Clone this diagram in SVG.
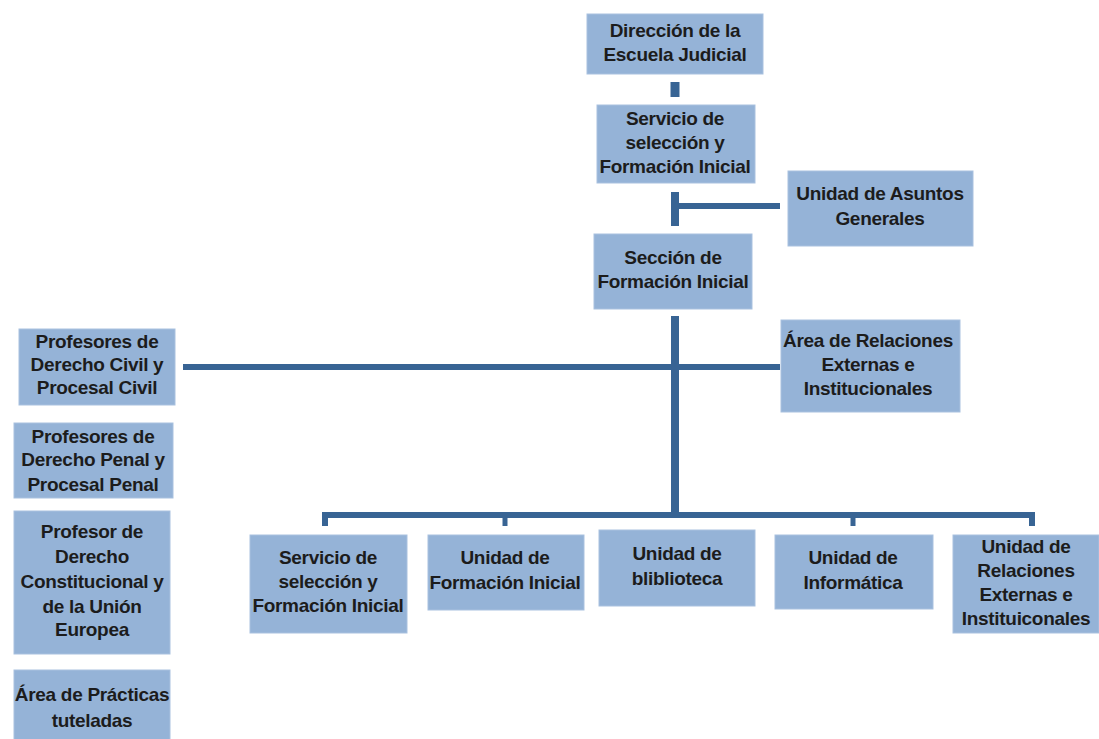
<svg xmlns="http://www.w3.org/2000/svg" width="1099" height="739" viewBox="0 0 1099 739">
<style>
.box{fill:#95b3d7;stroke:#a9c1df;stroke-width:1}
.t{font-family:"Liberation Sans",Arial,sans-serif;font-weight:bold;font-size:19px;fill:#1c1c1c;text-anchor:middle;letter-spacing:-0.3px}
.c{stroke:#386494;fill:none;stroke-linecap:butt}
</style>
<rect width="1099" height="739" fill="#ffffff"/>
<g id="connectors">
<line class="c" x1="675" y1="82" x2="675" y2="97" stroke-width="9"/>
<line class="c" x1="675" y1="192" x2="675" y2="226" stroke-width="8"/>
<line class="c" x1="675" y1="206" x2="780" y2="206" stroke-width="6"/>
<line class="c" x1="675" y1="316" x2="675" y2="518" stroke-width="8"/>
<line class="c" x1="183" y1="367" x2="780" y2="367" stroke-width="6"/>
<path class="c" d="M325 526 V515 H1032 V526" stroke-width="6"/>
<line class="c" x1="505" y1="515" x2="505" y2="526" stroke-width="5"/>
<line class="c" x1="853" y1="515" x2="853" y2="526" stroke-width="5"/>
</g>
<g id="n-direccion">
<rect class="box" x="587" y="14" width="176" height="60"/>
<text class="t" x="675" y="36.5">Dirección de la</text>
<text class="t" x="675" y="60.5">Escuela Judicial</text>
</g>
<g id="n-servicio-top">
<rect class="box" x="597" y="105" width="158" height="78"/>
<text class="t" x="675" y="124.5">Servicio de</text>
<text class="t" x="675" y="148.5">selección y</text>
<text class="t" x="675" y="172.5">Formación Inicial</text>
</g>
<g id="n-asuntos">
<rect class="box" x="788" y="171" width="185" height="75"/>
<text class="t" x="880" y="199.5">Unidad de Asuntos</text>
<text class="t" x="880" y="224.5">Generales</text>
</g>
<g id="n-seccion">
<rect class="box" x="594" y="234" width="158" height="75"/>
<text class="t" x="673" y="263.5">Sección de</text>
<text class="t" x="673" y="287.5">Formación Inicial</text>
</g>
<g id="n-civil">
<rect class="box" x="19" y="329" width="156" height="76"/>
<text class="t" x="97" y="347.5">Profesores de</text>
<text class="t" x="97" y="370.5">Derecho Civil y</text>
<text class="t" x="97" y="393.5">Procesal Civil</text>
</g>
<g id="n-penal">
<rect class="box" x="14" y="423" width="159" height="75"/>
<text class="t" x="93" y="442.5">Profesores de</text>
<text class="t" x="93" y="465.5">Derecho Penal y</text>
<text class="t" x="93" y="490.5">Procesal Penal</text>
</g>
<g id="n-constitucional">
<rect class="box" x="14" y="511" width="156" height="143"/>
<text class="t" x="92" y="537.5">Profesor de</text>
<text class="t" x="92" y="562.5">Derecho</text>
<text class="t" x="92" y="587.5">Constitucional y</text>
<text class="t" x="92" y="612.5">de la Unión</text>
<text class="t" x="92" y="635.5">Europea</text>
</g>
<g id="n-practicas">
<rect class="box" x="14" y="670" width="156" height="70"/>
<text class="t" x="92" y="700.5">Área de Prácticas</text>
<text class="t" x="92" y="726.5">tuteladas</text>
</g>
<g id="n-area-relaciones">
<rect class="box" x="781" y="320" width="179" height="92"/>
<text class="t" x="868" y="346.5">Área de Relaciones</text>
<text class="t" x="868" y="370.5">Externas e</text>
<text class="t" x="868" y="394.5">Institucionales</text>
</g>
<g id="n-servicio-bottom">
<rect class="box" x="250" y="535" width="157" height="98"/>
<text class="t" x="328" y="563.5">Servicio de</text>
<text class="t" x="328" y="587.5">selección y</text>
<text class="t" x="328" y="611.5">Formación Inicial</text>
</g>
<g id="n-formacion">
<rect class="box" x="428" y="535" width="156" height="75"/>
<text class="t" x="505" y="563.5">Unidad de</text>
<text class="t" x="505" y="588.5">Formación Inicial</text>
</g>
<g id="n-biblioteca">
<rect class="box" x="599" y="530" width="156" height="76"/>
<text class="t" x="677" y="559.5">Unidad de</text>
<text class="t" x="677" y="584.5">bliblioteca</text>
</g>
<g id="n-informatica">
<rect class="box" x="775" y="535" width="158" height="74"/>
<text class="t" x="853" y="563.5">Unidad de</text>
<text class="t" x="853" y="588.5">Informática</text>
</g>
<g id="n-relaciones">
<rect class="box" x="953" y="535" width="146" height="98"/>
<text class="t" x="1026" y="552.5">Unidad de</text>
<text class="t" x="1026" y="576.5">Relaciones</text>
<text class="t" x="1026" y="600.5">Externas e</text>
<text class="t" x="1026" y="624.5">Instituiconales</text>
</g>
</svg>
